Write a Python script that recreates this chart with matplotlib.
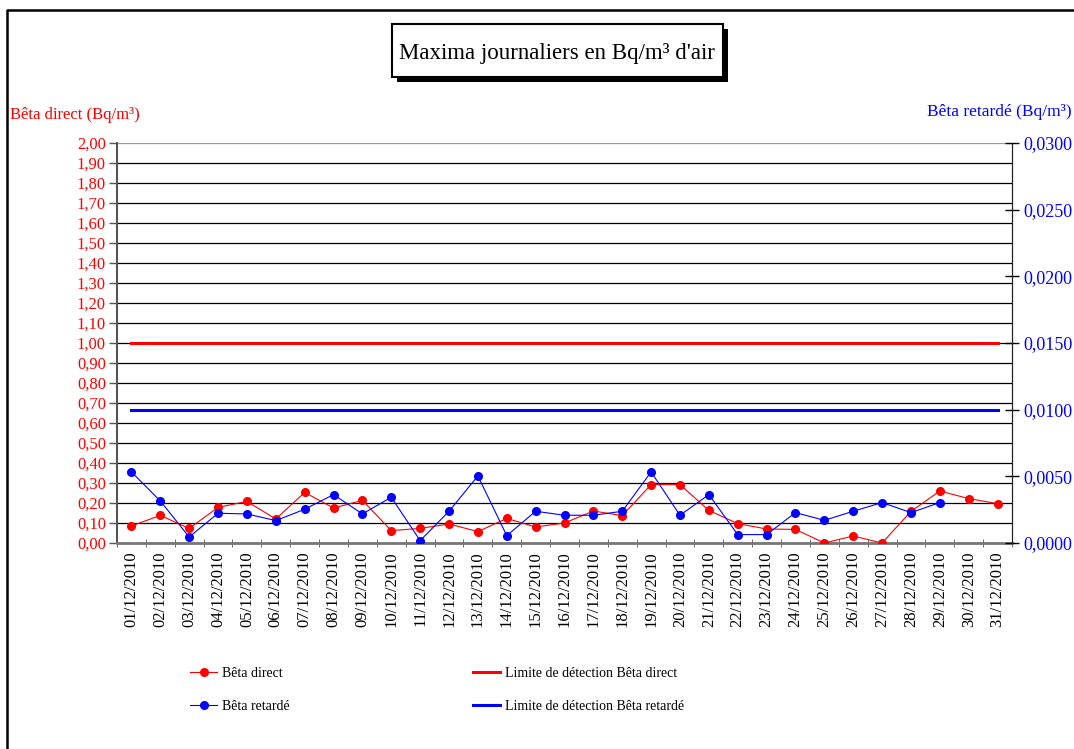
import numpy as np
import matplotlib
matplotlib.use('Agg')
import matplotlib.pyplot as plt
from matplotlib.patches import Rectangle
from matplotlib.lines import Line2D
from matplotlib.ticker import MultipleLocator, FuncFormatter

plt.rcParams['font.family'] = ['Liberation Serif', 'DejaVu Serif']

# donnees
dates = ['%02d/12/2010' % d for d in range(1, 32)]
beta_direct = [0.085, 0.138, 0.073, 0.178, 0.208, 0.12, 0.253, 0.175, 0.213, 0.062,
               0.073, 0.095, 0.057, 0.123, 0.08, 0.10, 0.16, 0.137, 0.292, 0.292,
               0.163, 0.097, 0.07, 0.068, 0.0, 0.035, 0.0, 0.158, 0.26, 0.222, 0.197]
beta_retarde = [0.00533, 0.00315, 0.00045, 0.00223, 0.00218, 0.00168, 0.00253, 0.00363,
                0.00218, 0.00343, 0.00018, 0.00238, 0.00503, 0.00055, 0.00238, 0.00208,
                0.00208, 0.00238, 0.00533, 0.00208, 0.00363, 0.00063, 0.00063, 0.00228,
                0.0017, 0.00238, 0.00303, 0.00228, 0.00303, np.nan, np.nan]
limite_direct = 1.00
limite_retarde = 0.0100

W, H = 1074, 749
fig = plt.figure(figsize=(W/100, H/100), dpi=100)
ax = fig.add_axes([117/W, 1-543/H, (1012-117)/W, 400/H])
ax2 = ax.twinx()

x = np.arange(len(dates))
n = len(dates)

# lignes de grille
ax.set_ylim(0, 2.0)
ax.set_xlim(-0.5, n-0.5)
ax.yaxis.set_major_locator(MultipleLocator(0.1))
ax.grid(axis='y', color='black', linewidth=0.9)
ax.set_axisbelow(True)

ax.plot(x, np.full(n, limite_direct), color='#ff0000', linewidth=2.2, zorder=2)
ax.plot(x, beta_direct, color='#ff0000', linewidth=0.8, marker='o', markersize=5.5, zorder=3)

ax2.set_ylim(0, 0.03)
ax2.yaxis.set_major_locator(MultipleLocator(0.005))
ax2.plot(x, np.full(n, limite_retarde), color='#0000ff', linewidth=2.2, zorder=2)
ax2.plot(x, beta_retarde, color='#0000ff', linewidth=0.8, marker='o', markersize=5.5, zorder=3)

ax.yaxis.set_major_formatter(FuncFormatter(lambda v, p: ('%.2f' % v).replace('.', ',')))
ax2.yaxis.set_major_formatter(FuncFormatter(lambda v, p: ('%.4f' % v).replace('.', ',')))

ax.tick_params(axis='y', colors='#ff0000', labelsize=12, length=6, width=1, direction='out', pad=2)
ax.tick_params(axis='y', which='both', color='#555555')
ax2.tick_params(axis='y', labelcolor='#0000ff', labelsize=13, length=10, width=1,
                direction='inout', color='black', pad=3)

ax.set_xticks(x)
ax.set_xticklabels(dates, rotation=90, fontsize=12)
ax.set_xticks(np.arange(-0.5, n, 1), minor=True)
ax.tick_params(axis='x', which='major', length=0, pad=6)
ax.tick_params(axis='x', which='minor', length=6, direction='inout', color='#555555')

for a in (ax, ax2):
    a.spines['top'].set_visible(False)
ax.spines['left'].set_color('#555555')
ax.spines['left'].set_linewidth(1.5)
ax.spines['bottom'].set_color('#777777')
ax.spines['bottom'].set_linewidth(2)
ax2.spines['right'].set_color('#222222')
ax2.spines['left'].set_visible(False)
ax2.spines['bottom'].set_visible(False)
for gl, v in zip(ax.yaxis.get_gridlines(), ax.get_yticks()):
    if abs(v - 2.0) < 1e-9:
        gl.set_color('#999999')

# titres des axes
fig.text(10/W, 1-115/H, 'Bêta direct (Bq/m³)', color='#ff0000', fontsize=12, va='center', ha='left')
fig.text(1072/W, 1-112/H, 'Bêta retardé (Bq/m³)', color='#0000ff', fontsize=12.5, va='center', ha='right')

# cadre du titre avec ombre
fig.patches.append(Rectangle((397/W, 1-82/H), 331/W, 53/H, transform=fig.transFigure,
                             facecolor='black', edgecolor='none', zorder=1))
fig.patches.append(Rectangle((392/W, 1-77/H), 331/W, 53/H, transform=fig.transFigure,
                             facecolor='white', edgecolor='black', linewidth=1.5, zorder=2))
fig.text(557/W, 1-54/H, "Maxima journaliers en Bq/m³ d'air", fontsize=16.5,
         ha='center', va='center', zorder=3)

# bordure de la zone du graphique
fig.add_artist(Line2D([7/W, 7/W, 1], [0, 1-10/H, 1-10/H], transform=fig.transFigure,
                      color='black', linewidth=1.8))

# legende
handles = [
    Line2D([], [], color='#ff0000', linewidth=0.8, marker='o', markersize=5.5),
    Line2D([], [], color='#0000ff', linewidth=0.8, marker='o', markersize=5.5),
    Line2D([], [], color='#ff0000', linewidth=2.2),
    Line2D([], [], color='#0000ff', linewidth=2.2),
]
labels = ['Bêta direct', 'Bêta retardé', 'Limite de détection Bêta direct',
          'Limite de détection Bêta retardé']
fig.legend(handles, labels, ncol=2, frameon=False, fontsize=10,
           loc='center left', bbox_to_anchor=(190/W, 1-690/H),
           borderpad=0, borderaxespad=0, handlelength=1.95, handletextpad=0.35,
           columnspacing=13.2, labelspacing=1.45)

fig.savefig('out.png', dpi=100)
